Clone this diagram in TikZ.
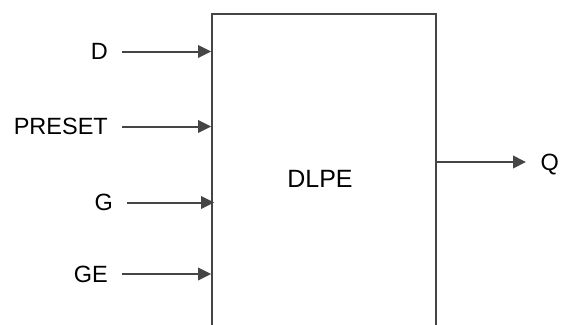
\documentclass[tikz,border=0pt]{standalone}
\usepackage{fontspec}
\setmainfont{Liberation Sans}
\usetikzlibrary{arrows.meta}
\tikzset{>={Triangle[length=13pt,width=12.5pt]}}
\colorlet{wirecol}{black!73}
\tikzset{
  inpin/.style={anchor=east, inner xsep=14pt, inner ysep=0pt, text depth=0pt, font=\fontsize{23.5}{27}\selectfont},
  outpin/.style={anchor=west, inner xsep=14.5pt, inner ysep=0pt, text depth=0pt, font=\fontsize{23.5}{27}\selectfont},
  wire/.style={->, line width=2pt, draw=wirecol},
}

\begin{document}
\begin{tikzpicture}[x=1pt,y=-1pt]
                \useasboundingbox (0,0) rectangle (562,324);
                \clip (0,0) rectangle (562,324);

                % the block, its lower part runs off the page
                \node[draw=wirecol, line width=1.8pt, minimum width=224pt, minimum height=330pt, inner sep=0pt] (dlpe) at (324,179) {};
                \node[font=\fontsize{25}{29}\selectfont, text depth=0pt] (name) at (320,179) {DLPE};

                % inputs
                \node[inpin] (d) at (122,51.5) {D};
                \node[inpin] (preset) at (122,126.5) {PRESET};
                \node[inpin] (g) at (127,202.5) {G};
                \node[inpin] (ge) at (122,274) {GE};

                % output
                \coordinate (qout) at (dlpe.east |- 0,162);
                \node[outpin] (q) at (526,162) {Q};

                % D to block
                \draw[wire] (d.east) -- (d.east -| dlpe.west);
                % PRESET to block
                \draw[wire] (preset.east) -- (preset.east -| dlpe.west);
                % G to block
                \draw[wire] (g.east) -- ([xshift=3pt]g.east -| dlpe.west);
                % GE to block
                \draw[wire] (ge.east) -- (ge.east -| dlpe.west);
                % block to Q
                \draw[wire] (qout) -- (q.west);
            \end{tikzpicture}
\end{document}
